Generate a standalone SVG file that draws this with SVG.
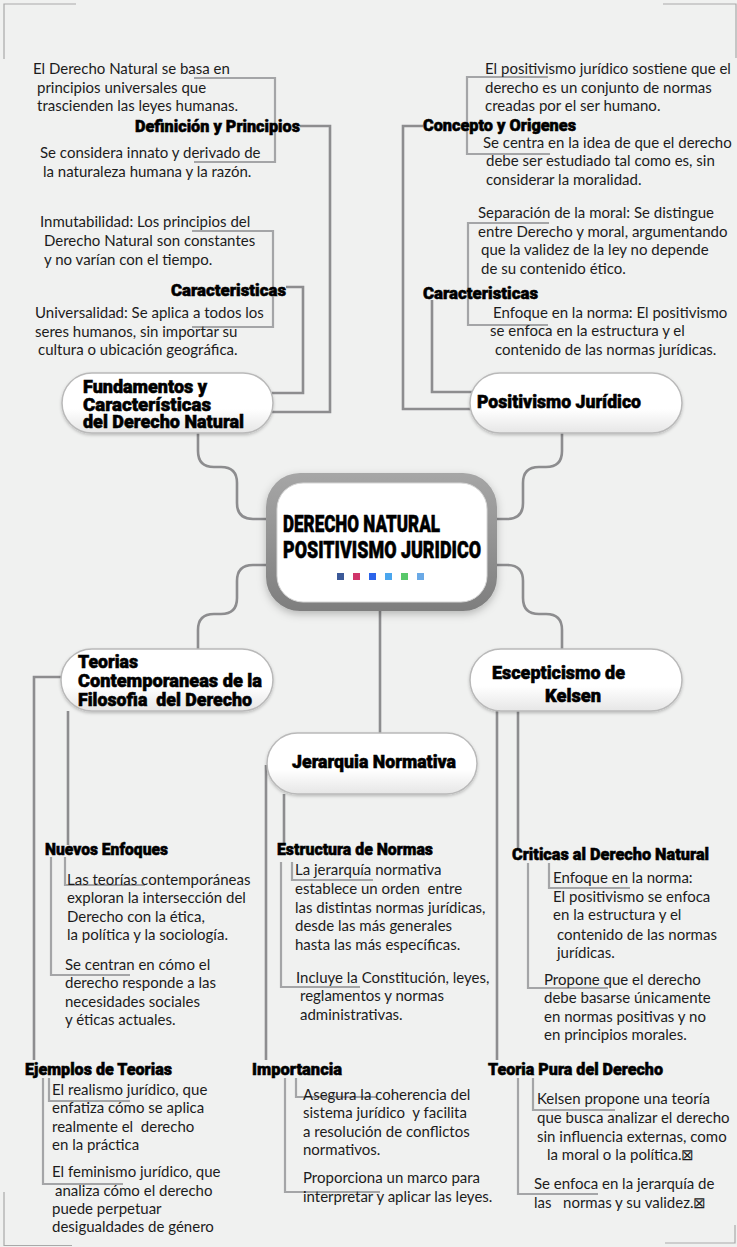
<svg xmlns="http://www.w3.org/2000/svg" width="737" height="1247" viewBox="0 0 737 1247">
<defs>
<style>
.t{font-family:Lato,"Liberation Sans",sans-serif;font-size:15px;fill:#1c1c1c;white-space:pre}
.h{font-family:Roboto,"Liberation Sans",sans-serif;font-weight:900;fill:#000;stroke:#000;stroke-width:0.55;white-space:pre}
.hs{font-size:17px}
.hn{font-size:18.5px}
.hc{font-size:23.5px}
.main{fill:none;stroke:#8d8d8f;stroke-width:2.6}
.br{fill:none;stroke:#a4a5a7;stroke-width:2.2}
.corner{fill:none;stroke:#a9a9a9;stroke-width:1.2}
.pill{fill:url(#pg);stroke:#b9b9b9;stroke-width:1.5;filter:url(#sh)}
</style>
<linearGradient id="pg" x1="0" y1="0" x2="0" y2="1">
<stop offset="0" stop-color="#ffffff"/>
<stop offset="0.6" stop-color="#ffffff"/>
<stop offset="1" stop-color="#e6e6e6"/>
</linearGradient>
<linearGradient id="cg" x1="0" y1="0" x2="0" y2="1">
<stop offset="0" stop-color="#a6a6a6"/>
<stop offset="1" stop-color="#7e7e7e"/>
</linearGradient>
<filter id="sh" x="-10%" y="-20%" width="120%" height="150%">
<feDropShadow dx="0" dy="1.5" stdDeviation="1.5" flood-color="#000" flood-opacity="0.22"/>
</filter>
<filter id="sh2" x="-10%" y="-10%" width="120%" height="130%">
<feDropShadow dx="0" dy="3" stdDeviation="4" flood-color="#000" flood-opacity="0.25"/>
</filter>
</defs>
<rect width="737" height="1247" fill="#f0f1f0"/>

<g id="corners">
<path class="corner" d="M76,4 H4 V59"/>
<path class="corner" d="M663,4 H736 V58"/>
<path class="corner" d="M4,1192 V1245.5 H72"/>
<path class="corner" d="M665,1243 H735 V1225"/>
</g>

<g id="connectors">
<path class="main" d="M198,433 V451 Q198,467 214,467 H221 Q237,467 237,483 V503 Q237,519 253,519 H268"/>
<path class="main" d="M562,433 V451 Q562,467 546,467 H539 Q523,467 523,483 V503 Q523,519 507,519 H495"/>
<path class="main" d="M268,565 H253 Q237,565 237,581 V598 Q237,614 221,614 H214 Q198,614 198,630 V650"/>
<path class="main" d="M495,565 H507 Q523,565 523,581 V598 Q523,614 539,614 H546 Q562,614 562,630 V650"/>
<path class="main" d="M380,611 V734"/>
<path class="main" d="M272,412 H330 V126 H300"/>
<path class="main" d="M272,393 H303 V287 H286"/>
<path class="main" d="M472,409 H403 V126 H423"/>
<path class="main" d="M472,392 H432 V300"/>
<path class="main" d="M62,677 H34 V1060"/>
<path class="main" d="M68,711 V845"/>
<path class="main" d="M266,765 V1060"/>
<path class="main" d="M284,794 V845"/>
<path class="main" d="M497,711 V1060"/>
<path class="main" d="M518,711 V848"/>
<path class="br" d="M194,78 H275 V162 H194"/>
<path class="br" d="M192,231 H273 V327 H192"/>
<path class="br" d="M548,77 H467 V154 H550"/>
<path class="br" d="M549,223 H468 V325 H548"/>
<path class="br" d="M65,857 V885 H145"/>
<path class="br" d="M51,857 V975 H130"/>
<path class="br" d="M49,1078 V1101 H130"/>
<path class="br" d="M43,1078 V1184 H123"/>
<path class="br" d="M292,862 V880 H373"/>
<path class="br" d="M281,862 V987 H360"/>
<path class="br" d="M296,1078 V1097 H377"/>
<path class="br" d="M285,1078 V1192 H380"/>
<path class="br" d="M549,863 V888 H630"/>
<path class="br" d="M528,863 V988 H608"/>
<path class="br" d="M533,1078 V1110 H615"/>
<path class="br" d="M518,1078 V1194 H598"/>
</g>

<g id="center">
<rect x="266" y="473" width="231" height="138" rx="34" fill="url(#cg)" filter="url(#sh2)"/>
<rect x="277" y="483" width="210" height="119" rx="26" fill="#ffffff" stroke="#d6d6d6" stroke-width="1"/>
<text class="h hc" x="283" y="532" textLength="157" lengthAdjust="spacingAndGlyphs">DERECHO NATURAL</text>
<text class="h hc" x="283" y="558" textLength="198" lengthAdjust="spacingAndGlyphs">POSITIVISMO JURIDICO</text>
<rect x="337" y="573" width="7" height="7" fill="#3b5998"/>
<rect x="353" y="573" width="7" height="7" fill="#d0356a"/>
<rect x="369" y="573" width="7" height="7" fill="#2b64ea"/>
<rect x="385" y="573" width="7" height="7" fill="#4aa6ee"/>
<rect x="401" y="573" width="7" height="7" fill="#58c86a"/>
<rect x="417" y="573" width="7" height="7" fill="#6aa9e6"/>
</g>

<g id="node-fundamentos">
<rect class="pill" x="62" y="373" width="211" height="60" rx="30"/>
<text class="h hn" x="83" y="393" textLength="124" lengthAdjust="spacingAndGlyphs">Fundamentos y</text>
<text class="h hn" x="83" y="411" textLength="128" lengthAdjust="spacingAndGlyphs">Características</text>
<text class="h hn" x="83" y="428" textLength="161" lengthAdjust="spacingAndGlyphs">del Derecho Natural</text>
</g>

<g id="node-positivismo">
<rect class="pill" x="470" y="373" width="212" height="60" rx="30"/>
<text class="h hn" x="477" y="408" textLength="164" lengthAdjust="spacingAndGlyphs">Positivismo Jurídico</text>
</g>

<g id="node-teorias">
<rect class="pill" x="61" y="649" width="212" height="62" rx="31"/>
<text class="h hn" x="78" y="668" textLength="60" lengthAdjust="spacingAndGlyphs">Teorias</text>
<text class="h hn" x="78" y="687" textLength="184" lengthAdjust="spacingAndGlyphs">Contemporaneas de la</text>
<text class="h hn" x="78" y="706" textLength="174" lengthAdjust="spacingAndGlyphs">Filosofia  del Derecho</text>
</g>

<g id="node-jerarquia">
<rect class="pill" x="267" y="733" width="210" height="61" rx="30.5"/>
<text class="h hn" x="292" y="768" textLength="164" lengthAdjust="spacingAndGlyphs">Jerarquia Normativa</text>
</g>

<g id="node-escepticismo">
<rect class="pill" x="470" y="649" width="212" height="62" rx="31"/>
<text class="h hn" x="492" y="679" textLength="133" lengthAdjust="spacingAndGlyphs">Escepticismo de</text>
<text class="h hn" x="545" y="702" textLength="56" lengthAdjust="spacingAndGlyphs">Kelsen</text>
</g>

<g id="definicion">
<text class="h hs" x="135" y="132" textLength="165" lengthAdjust="spacingAndGlyphs">Definición y Principios</text>
<text class="t" x="33" y="74">El Derecho Natural se basa en</text>
<text class="t" x="37" y="93">principios universales que</text>
<text class="t" x="37" y="111">trascienden las leyes humanas.</text>
<text class="t" x="40" y="158">Se considera innato y derivado de</text>
<text class="t" x="43" y="177">la naturaleza humana y la razón.</text>
</g>

<g id="caracteristicas-natural">
<text class="h hs" x="171" y="296" textLength="115" lengthAdjust="spacingAndGlyphs">Caracteristicas</text>
<text class="t" x="40" y="227">Inmutabilidad: Los principios del</text>
<text class="t" x="44" y="246">Derecho Natural son constantes</text>
<text class="t" x="44" y="265">y no varían con el tiempo.</text>
<text class="t" x="35" y="318">Universalidad: Se aplica a todos los</text>
<text class="t" x="35" y="337">seres humanos, sin importar su</text>
<text class="t" x="38" y="355">cultura o ubicación geográfica.</text>
</g>

<g id="concepto">
<text class="h hs" x="423" y="131" textLength="153" lengthAdjust="spacingAndGlyphs">Concepto y Origenes</text>
<text class="t" x="485" y="74">El positivismo jurídico sostiene que el</text>
<text class="t" x="485" y="93">derecho es un conjunto de normas</text>
<text class="t" x="485" y="111">creadas por el ser humano.</text>
<text class="t" x="483" y="148">Se centra en la idea de que el derecho</text>
<text class="t" x="486" y="166">debe ser estudiado tal como es, sin</text>
<text class="t" x="486" y="185">considerar la moralidad.</text>
</g>

<g id="caracteristicas-positivismo">
<text class="h hs" x="423" y="299" textLength="115" lengthAdjust="spacingAndGlyphs">Caracteristicas</text>
<text class="t" x="478" y="218">Separación de la moral: Se distingue</text>
<text class="t" x="478" y="237">entre Derecho y moral, argumentando</text>
<text class="t" x="481" y="255">que la validez de la ley no depende</text>
<text class="t" x="481" y="274">de su contenido ético.</text>
<text class="t" x="493" y="318">Enfoque en la norma: El positivismo</text>
<text class="t" x="490" y="336">se enfoca en la estructura y el</text>
<text class="t" x="495" y="355">contenido de las normas jurídicas.</text>
</g>

<g id="nuevos-enfoques">
<text class="h hs" x="45" y="855" textLength="123" lengthAdjust="spacingAndGlyphs">Nuevos Enfoques</text>
<text class="t" x="67" y="885">Las teorías contemporáneas</text>
<text class="t" x="67" y="903">exploran la intersección del</text>
<text class="t" x="67" y="922">Derecho con la ética,</text>
<text class="t" x="67" y="940">la política y la sociología.</text>
<text class="t" x="65" y="970">Se centran en cómo el</text>
<text class="t" x="65" y="988">derecho responde a las</text>
<text class="t" x="65" y="1007">necesidades sociales</text>
<text class="t" x="65" y="1025">y éticas actuales.</text>
</g>

<g id="ejemplos">
<text class="h hs" x="25" y="1075" textLength="147" lengthAdjust="spacingAndGlyphs">Ejemplos de Teorias</text>
<text class="t" x="52" y="1095">El realismo jurídico, que</text>
<text class="t" x="52" y="1113">enfatiza cómo se aplica</text>
<text class="t" x="52" y="1132">realmente el  derecho</text>
<text class="t" x="52" y="1150">en la práctica</text>
<text class="t" x="52" y="1177">El feminismo jurídico, que</text>
<text class="t" x="55" y="1196">analiza cómo el derecho</text>
<text class="t" x="52" y="1214">puede perpetuar</text>
<text class="t" x="52" y="1232">desigualdades de género</text>
</g>

<g id="estructura">
<text class="h hs" x="277" y="855" textLength="156" lengthAdjust="spacingAndGlyphs">Estructura de Normas</text>
<text class="t" x="295" y="875">La jerarquía normativa</text>
<text class="t" x="295" y="894">establece un orden  entre</text>
<text class="t" x="295" y="913">las distintas normas jurídicas,</text>
<text class="t" x="295" y="931">desde las más generales</text>
<text class="t" x="295" y="950">hasta las más específicas.</text>
<text class="t" x="296" y="983">Incluye la Constitución, leyes,</text>
<text class="t" x="300" y="1001">reglamentos y normas</text>
<text class="t" x="300" y="1020">administrativas.</text>
</g>

<g id="importancia">
<text class="h hs" x="252" y="1075" textLength="90" lengthAdjust="spacingAndGlyphs">Importancia</text>
<text class="t" x="303" y="1100">Asegura la coherencia del</text>
<text class="t" x="303" y="1118">sistema jurídico  y facilita</text>
<text class="t" x="303" y="1137">a resolución de conflictos</text>
<text class="t" x="303" y="1155">normativos.</text>
<text class="t" x="303" y="1183">Proporciona un marco para</text>
<text class="t" x="303" y="1202">interpretar y aplicar las leyes.</text>
</g>

<g id="criticas">
<text class="h hs" x="512" y="860" textLength="197" lengthAdjust="spacingAndGlyphs">Criticas al Derecho Natural</text>
<text class="t" x="553" y="883">Enfoque en la norma:</text>
<text class="t" x="553" y="902">El positivismo se enfoca</text>
<text class="t" x="553" y="920">en la estructura y el</text>
<text class="t" x="557" y="940">contenido de las normas</text>
<text class="t" x="557" y="958">jurídicas.</text>
<text class="t" x="544" y="985">Propone que el derecho</text>
<text class="t" x="544" y="1003">debe basarse únicamente</text>
<text class="t" x="544" y="1022">en normas positivas y no</text>
<text class="t" x="544" y="1040">en principios morales.</text>
</g>

<g id="teoria-pura">
<text class="h hs" x="488" y="1075" textLength="175" lengthAdjust="spacingAndGlyphs">Teoria Pura del Derecho</text>
<text class="t" x="537" y="1104">Kelsen propone una teoría</text>
<text class="t" x="537" y="1123">que busca analizar el derecho</text>
<text class="t" x="537" y="1142">sin influencia externas, como</text>
<text class="t" x="547" y="1160">la moral o la política.⊠</text>
<text class="t" x="534" y="1189">Se enfoca en la jerarquía de</text>
<text class="t" x="534" y="1208">las   normas y su validez.⊠</text>
</g>
</svg>
